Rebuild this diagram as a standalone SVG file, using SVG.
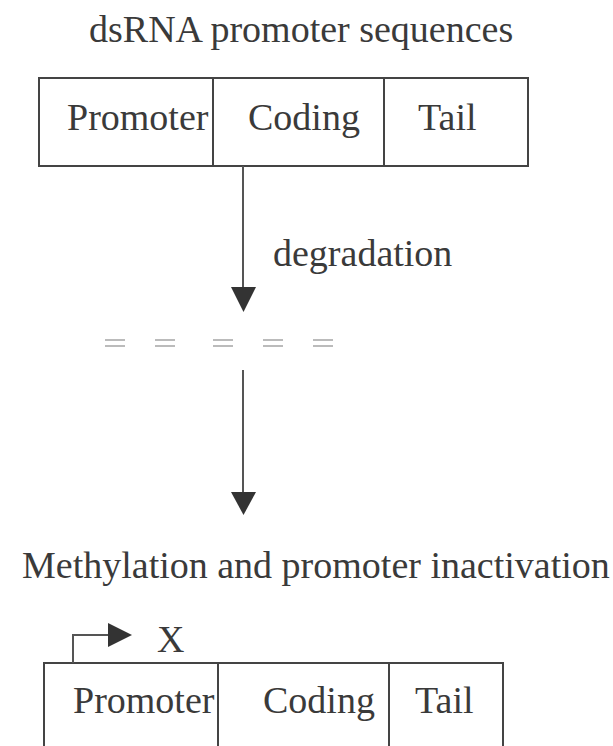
<svg xmlns="http://www.w3.org/2000/svg" width="613" height="746" viewBox="0 0 613 746">
<style>
text { font-family: "Liberation Serif", "Times New Roman", serif; font-size: 38px; fill: #3a3a3a; }
.box { fill: none; stroke: #444; stroke-width: 2; }
.conn { fill: none; stroke: #555; stroke-width: 2; }
.head { fill: #333; stroke: none; }
.eq { stroke: #aaa; stroke-width: 1.6; }
</style>
<rect width="613" height="746" fill="#fff"/>
<g id="title">
<text x="89" y="42">dsRNA promoter sequences</text>
</g>
<g id="top-construct">
<rect class="box" x="39" y="78" width="489" height="88"/>
<line class="box" x1="213" y1="78" x2="213" y2="166"/>
<line class="box" x1="384" y1="78" x2="384" y2="166"/>
<text x="67" y="130">Promoter</text>
<text x="248" y="130">Coding</text>
<text x="418" y="130">Tail</text>
</g>
<g id="degradation-label">
<text x="273" y="266">degradation</text>
</g>
<g id="fragments">
<line class="eq" x1="105" y1="340" x2="125" y2="340"/><line class="eq" x1="105" y1="346" x2="125" y2="346"/>
<line class="eq" x1="155" y1="340" x2="175" y2="340"/><line class="eq" x1="155" y1="346" x2="175" y2="346"/>
<line class="eq" x1="213" y1="340" x2="233" y2="340"/><line class="eq" x1="213" y1="346" x2="233" y2="346"/>
<line class="eq" x1="263" y1="340" x2="283" y2="340"/><line class="eq" x1="263" y1="346" x2="283" y2="346"/>
<line class="eq" x1="313" y1="340" x2="333" y2="340"/><line class="eq" x1="313" y1="346" x2="333" y2="346"/>
</g>
<g id="methylation-label">
<text x="22" y="578">Methylation and promoter inactivation</text>
</g>
<g id="bottom-construct">
<rect class="box" x="44" y="663" width="459" height="110"/>
<line class="box" x1="218" y1="663" x2="218" y2="746"/>
<line class="box" x1="389" y1="663" x2="389" y2="746"/>
<text x="73" y="713">Promoter</text>
<text x="263" y="713">Coding</text>
<text x="415" y="713">Tail</text>
<text x="157" y="652">X</text>
</g>
<g id="connectors">
<line class="conn" x1="243" y1="166" x2="243" y2="290"/>
<polygon class="head" points="231,287 256,287 243.5,312"/>
<line class="conn" x1="243" y1="370" x2="243" y2="495"/>
<polygon class="head" points="231,492 256,492 243.5,515"/>
<polyline class="conn" points="73,663 73,635 110,635"/>
<polygon class="head" points="108,623 132,635 108,647"/>
</g>
</svg>
